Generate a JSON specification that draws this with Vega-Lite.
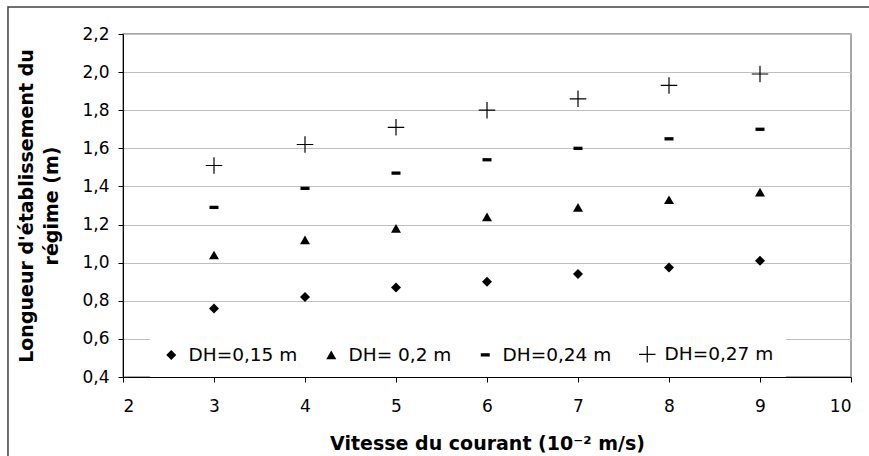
{
  "$schema": "https://vega.github.io/schema/vega-lite/v6.json",
  "width": 728,
  "height": 343,
  "autosize": {"type": "none"},
  "padding": {"left": 123, "top": 34, "right": 18, "bottom": 79},
  "background": "white",
  "data": {
    "values": [
      {"v": 3, "L": 0.76, "s": "DH=0,15 m"},
      {"v": 4, "L": 0.82, "s": "DH=0,15 m"},
      {"v": 5, "L": 0.87, "s": "DH=0,15 m"},
      {"v": 6, "L": 0.90, "s": "DH=0,15 m"},
      {"v": 7, "L": 0.94, "s": "DH=0,15 m"},
      {"v": 8, "L": 0.975, "s": "DH=0,15 m"},
      {"v": 9, "L": 1.01, "s": "DH=0,15 m"},
      {"v": 3, "L": 1.04, "s": "DH= 0,2 m"},
      {"v": 4, "L": 1.12, "s": "DH= 0,2 m"},
      {"v": 5, "L": 1.18, "s": "DH= 0,2 m"},
      {"v": 6, "L": 1.24, "s": "DH= 0,2 m"},
      {"v": 7, "L": 1.29, "s": "DH= 0,2 m"},
      {"v": 8, "L": 1.33, "s": "DH= 0,2 m"},
      {"v": 9, "L": 1.37, "s": "DH= 0,2 m"},
      {"v": 3, "L": 1.29, "s": "DH=0,24 m"},
      {"v": 4, "L": 1.39, "s": "DH=0,24 m"},
      {"v": 5, "L": 1.47, "s": "DH=0,24 m"},
      {"v": 6, "L": 1.54, "s": "DH=0,24 m"},
      {"v": 7, "L": 1.60, "s": "DH=0,24 m"},
      {"v": 8, "L": 1.65, "s": "DH=0,24 m"},
      {"v": 9, "L": 1.70, "s": "DH=0,24 m"},
      {"v": 3, "L": 1.51, "s": "DH=0,27 m"},
      {"v": 4, "L": 1.62, "s": "DH=0,27 m"},
      {"v": 5, "L": 1.71, "s": "DH=0,27 m"},
      {"v": 6, "L": 1.80, "s": "DH=0,27 m"},
      {"v": 7, "L": 1.86, "s": "DH=0,27 m"},
      {"v": 8, "L": 1.93, "s": "DH=0,27 m"},
      {"v": 9, "L": 1.99, "s": "DH=0,27 m"}
    ]
  },
  "layer": [
    {
      "data": {"values": [{}]},
      "mark": {"type": "rect", "filled": false, "stroke": "#404040", "strokeWidth": 1.5, "clip": false},
      "encoding": {
        "x": {
          "datum": 0.736,
          "type": "quantitative",
          "scale": {"domain": [2, 10], "nice": false, "zero": false},
          "title": "Vitesse du courant (10⁻² m/s)",
          "axis": {
            "values": [2, 3, 4, 5, 6, 7, 8, 9, 10],
            "format": "d",
            "grid": false,
            "labelOverlap": false,
            "labelFont": "DejaVu Sans",
            "labelFontSize": 17,
            "labelColor": "black",
            "labelPadding": 16,
            "tickColor": "black",
            "tickSize": 5,
            "domainColor": "black",
            "titleFont": "DejaVu Sans",
            "titleFontSize": 19,
            "titleFontWeight": "bold",
            "titleColor": "black",
            "titlePadding": 20
          }
        },
        "x2": {"datum": 10.6},
        "y": {
          "datum": 2.342,
          "type": "quantitative",
          "scale": {"domain": [0.4, 2.2], "nice": false, "zero": false},
          "title": ["Longueur d'établissement du", "régime (m)"],
          "axis": {
            "values": [0.4, 0.6, 0.8, 1.0, 1.2, 1.4, 1.6, 1.8, 2.0, 2.2],
            "labelExpr": "replace(format(datum.value, '.1f'), '.', ',')",
            "labelOverlap": false,
            "grid": true,
            "gridColor": "#c0c0c0",
            "gridWidth": 1,
            "labelFont": "DejaVu Sans",
            "labelFontSize": 17,
            "labelColor": "black",
            "labelPadding": 9,
            "tickColor": "black",
            "tickSize": 5,
            "domainColor": "black",
            "titleFont": "DejaVu Sans",
            "titleFontSize": 19,
            "titleFontWeight": "bold",
            "titleColor": "black",
            "titleLineHeight": 25,
            "titlePadding": 20
          }
        },
        "y2": {"datum": -0.09}
      }
    },
    {
      "mark": {"type": "point", "opacity": 1, "size": 100, "strokeWidth": 1.2},
      "encoding": {
        "x": {
          "field": "v",
          "type": "quantitative",
          "scale": {"domain": [2, 10], "nice": false, "zero": false},
          "title": "Vitesse du courant (10⁻² m/s)",
          "axis": {
            "values": [2, 3, 4, 5, 6, 7, 8, 9, 10],
            "format": "d",
            "grid": false,
            "labelOverlap": false,
            "labelFont": "DejaVu Sans",
            "labelFontSize": 17,
            "labelColor": "black",
            "labelPadding": 16,
            "tickColor": "black",
            "tickSize": 5,
            "domainColor": "black",
            "titleFont": "DejaVu Sans",
            "titleFontSize": 19,
            "titleFontWeight": "bold",
            "titleColor": "black",
            "titlePadding": 20
          }
        },
        "y": {
          "field": "L",
          "type": "quantitative",
          "scale": {"domain": [0.4, 2.2], "nice": false, "zero": false},
          "title": ["Longueur d'établissement du", "régime (m)"],
          "axis": {
            "values": [0.4, 0.6, 0.8, 1.0, 1.2, 1.4, 1.6, 1.8, 2.0, 2.2],
            "labelExpr": "replace(format(datum.value, '.1f'), '.', ',')",
            "labelOverlap": false,
            "grid": true,
            "gridColor": "#c0c0c0",
            "gridWidth": 1,
            "labelFont": "DejaVu Sans",
            "labelFontSize": 17,
            "labelColor": "black",
            "labelPadding": 9,
            "tickColor": "black",
            "tickSize": 5,
            "domainColor": "black",
            "titleFont": "DejaVu Sans",
            "titleFontSize": 19,
            "titleFontWeight": "bold",
            "titleColor": "black",
            "titleLineHeight": 25,
            "titlePadding": 20
          }
        },
        "shape": {
          "field": "s",
          "type": "nominal",
          "title": null,
          "scale": {
            "domain": ["DH=0,15 m", "DH= 0,2 m", "DH=0,24 m", "DH=0,27 m"],
            "range": ["diamond", "triangle-up", "M-0.9,-0.33H0.9V0.33H-0.9Z", "M-1.65,0H1.65M0,-1.65V1.65"]
          },
          "legend": {
            "orient": "none",
            "legendX": 27,
            "legendY": 299,
            "direction": "horizontal",
            "padding": 12,
            "fillColor": "white",
            "columnPadding": 24,
            "labelOffset": 8,
            "symbolSize": 100,
            "symbolStrokeWidth": 1.2,
            "labelFont": "DejaVu Sans",
            "labelFontSize": 18.5,
            "labelColor": "black",
            "labelLimit": 300
          }
        },
        "fill": {
          "field": "s",
          "type": "nominal",
          "title": null,
          "scale": {
            "domain": ["DH=0,15 m", "DH= 0,2 m", "DH=0,24 m", "DH=0,27 m"],
            "range": ["black", "black", "black", "transparent"]
          },
          "legend": {
            "orient": "none",
            "legendX": 27,
            "legendY": 299,
            "direction": "horizontal",
            "padding": 12,
            "fillColor": "white",
            "columnPadding": 24,
            "labelOffset": 8,
            "symbolSize": 100,
            "symbolStrokeWidth": 1.2,
            "labelFont": "DejaVu Sans",
            "labelFontSize": 18.5,
            "labelColor": "black",
            "labelLimit": 300
          }
        },
        "stroke": {
          "field": "s",
          "type": "nominal",
          "title": null,
          "scale": {
            "domain": ["DH=0,15 m", "DH= 0,2 m", "DH=0,24 m", "DH=0,27 m"],
            "range": ["transparent", "transparent", "transparent", "black"]
          },
          "legend": {
            "orient": "none",
            "legendX": 27,
            "legendY": 299,
            "direction": "horizontal",
            "padding": 12,
            "fillColor": "white",
            "columnPadding": 24,
            "labelOffset": 8,
            "symbolSize": 100,
            "symbolStrokeWidth": 1.2,
            "labelFont": "DejaVu Sans",
            "labelFontSize": 18.5,
            "labelColor": "black",
            "labelLimit": 300
          }
        }
      }
    }
  ],
  "config": {
    "view": {"stroke": "#8c8c8c", "strokeWidth": 1.5},
    "axis": {"domainWidth": 1, "tickWidth": 1}
  }
}
